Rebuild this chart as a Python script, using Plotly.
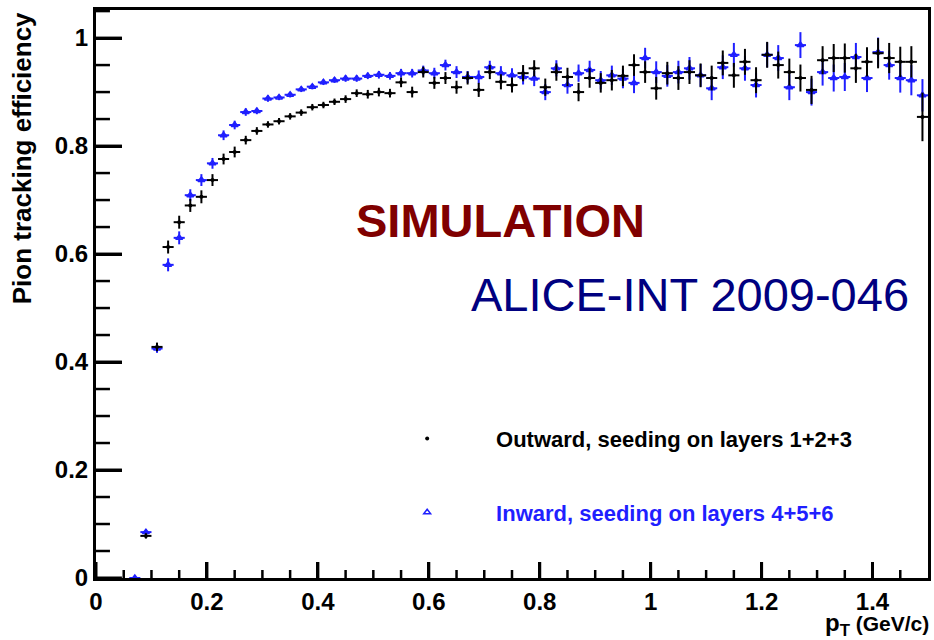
import plotly.graph_objects as go

# ---------------- data ----------------
pt = [0.07, 0.09, 0.11, 0.13, 0.15, 0.17, 0.19, 0.21, 0.23, 0.25,
      0.27, 0.29, 0.31, 0.33, 0.35, 0.37, 0.39, 0.41, 0.43, 0.45,
      0.47, 0.49, 0.51, 0.53, 0.55, 0.57, 0.59, 0.61, 0.63, 0.65,
      0.67, 0.69, 0.71, 0.73, 0.75, 0.77, 0.79, 0.81, 0.83, 0.85,
      0.87, 0.89, 0.91, 0.93, 0.95, 0.97, 0.99, 1.01, 1.03, 1.05,
      1.07, 1.09, 1.11, 1.13, 1.15, 1.17, 1.19, 1.21, 1.23, 1.25,
      1.27, 1.29, 1.31, 1.33, 1.35, 1.37, 1.39, 1.41, 1.43, 1.45,
      1.47, 1.49]

eff_outward = [None, 0.078, 0.428, 0.613, 0.659, 0.690, 0.706, 0.737, 0.776, 0.789,
               0.811, 0.828, 0.840, 0.846, 0.855, 0.862, 0.872, 0.876, 0.882, 0.887,
               0.898, 0.896, 0.900, 0.898, 0.918, 0.900, 0.937, 0.917, 0.926, 0.909,
               0.926, 0.904, 0.937, 0.919, 0.913, 0.935, 0.944, 0.909, 0.937, 0.928,
               0.900, 0.926, 0.917, 0.922, 0.930, 0.950, 0.937, 0.907, 0.935, 0.926,
               0.937, 0.931, 0.926, 0.954, 0.931, 0.956, 0.922, 0.969, 0.950, 0.937,
               0.926, 0.904, 0.959, 0.963, 0.963, 0.944, 0.956, 0.972, 0.963, 0.956,
               0.956, 0.854]

err_outward = [0.0, 0.005, 0.008, 0.012, 0.012, 0.012, 0.012, 0.011, 0.010, 0.010,
               0.008, 0.007, 0.006, 0.006, 0.006, 0.006, 0.006, 0.006, 0.006, 0.007,
               0.007, 0.008, 0.008, 0.008, 0.009, 0.010, 0.010, 0.011, 0.011, 0.012,
               0.012, 0.013, 0.013, 0.014, 0.014, 0.015, 0.015, 0.016, 0.016, 0.017,
               0.017, 0.018, 0.018, 0.019, 0.019, 0.020, 0.020, 0.021, 0.021, 0.022,
               0.022, 0.022, 0.023, 0.023, 0.023, 0.024, 0.024, 0.024, 0.025, 0.025,
               0.025, 0.026, 0.026, 0.026, 0.027, 0.027, 0.027, 0.028, 0.028, 0.028,
               0.029, 0.045]

eff_inward = [0.0, 0.085, 0.425, 0.580, 0.630, 0.709, 0.737, 0.768, 0.820, 0.839,
              0.863, 0.865, 0.888, 0.890, 0.895, 0.905, 0.910, 0.918, 0.922, 0.925,
              0.925, 0.930, 0.932, 0.930, 0.935, 0.935, 0.940, 0.935, 0.950, 0.937,
              0.928, 0.928, 0.946, 0.935, 0.931, 0.928, 0.925, 0.900, 0.944, 0.913,
              0.935, 0.941, 0.922, 0.931, 0.925, 0.917, 0.963, 0.937, 0.930, 0.937,
              0.944, 0.931, 0.907, 0.946, 0.969, 0.944, 0.913, 0.969, 0.963, 0.909,
              0.987, 0.900, 0.937, 0.926, 0.928, 0.965, 0.926, 0.974, 0.950, 0.926,
              0.922, 0.894]

err_inward = [0.0, 0.005, 0.008, 0.012, 0.012, 0.011, 0.011, 0.010, 0.009, 0.008,
              0.007, 0.006, 0.006, 0.005, 0.005, 0.005, 0.005, 0.005, 0.005, 0.006,
              0.006, 0.006, 0.007, 0.007, 0.008, 0.008, 0.009, 0.010, 0.010, 0.011,
              0.011, 0.012, 0.012, 0.013, 0.013, 0.014, 0.014, 0.015, 0.015, 0.016,
              0.016, 0.017, 0.017, 0.018, 0.018, 0.019, 0.019, 0.020, 0.020, 0.021,
              0.021, 0.021, 0.022, 0.022, 0.022, 0.023, 0.023, 0.023, 0.024, 0.024,
              0.024, 0.025, 0.025, 0.025, 0.026, 0.026, 0.026, 0.027, 0.027, 0.027,
              0.028, 0.030]

bin_half_width = 0.01

# axis tick positions (major / minor)
x_major_ticks = [0, 0.2, 0.4, 0.6, 0.8, 1.0, 1.2, 1.4]
x_minor_ticks = [0.05, 0.1, 0.15, 0.25, 0.3, 0.35, 0.45, 0.5, 0.55, 0.65, 0.7, 0.75,
                 0.85, 0.9, 0.95, 1.05, 1.1, 1.15, 1.25, 1.3, 1.35, 1.45]
y_major_ticks = [0, 0.2, 0.4, 0.6, 0.8, 1.0]
y_minor_ticks = [0.05, 0.1, 0.15, 0.25, 0.3, 0.35, 0.45, 0.5, 0.55, 0.65, 0.7, 0.75,
                 0.85, 0.9, 0.95, 1.05]

label_outward = "Outward, seeding on layers 1+2+3"
label_inward = "Inward, seeding on layers 4+5+6"

X_RANGE = [0, 1.5]
Y_RANGE = [0, 1.052]

BLUE = "#1f1fff"
FONT = "Liberation Sans"
pad = "\u00a0" * 8

# plot-area size in pixels (for tick lengths expressed in paper units)
PLOT_W = 934 - 96 - 3
PLOT_H = 640 - 10 - 62

fig = go.Figure()

fig.add_trace(go.Scatter(
    x=pt, y=eff_inward, mode="markers",
    name=pad + "<span style='color:%s'>%s</span>" % (BLUE, label_inward),
    legendgroup="in", legendrank=2,
    marker=dict(symbol="triangle-up-open", size=6, color=BLUE, line=dict(width=1.5, color=BLUE)),
    error_y=dict(type="data", array=err_inward, color=BLUE, thickness=2, width=0),
    error_x=dict(type="constant", value=bin_half_width, color=BLUE, thickness=2, width=0),
))

fig.add_trace(go.Scatter(
    x=pt, y=eff_outward, mode="markers",
    name=pad + label_outward,
    legendgroup="out", legendrank=1,
    marker=dict(symbol="circle", size=4, color="black"),
    error_y=dict(type="data", array=err_outward, color="black", thickness=2, width=0),
    error_x=dict(type="constant", value=bin_half_width, color="black", thickness=2, width=0),
))

# ROOT-style inside ticks drawn on the axes (major long, minor short)
tick_shapes = []
for v in x_major_ticks:
    tick_shapes.append(dict(type="line", xref="x", yref="paper", x0=v, x1=v, y0=0, y1=16 / PLOT_H,
                            line=dict(color="black", width=3), layer="above"))
for v in x_minor_ticks:
    tick_shapes.append(dict(type="line", xref="x", yref="paper", x0=v, x1=v, y0=0, y1=8 / PLOT_H,
                            line=dict(color="black", width=2.5), layer="above"))
for v in y_major_ticks:
    tick_shapes.append(dict(type="line", xref="paper", yref="y", x0=0, x1=26 / PLOT_W, y0=v, y1=v,
                            line=dict(color="black", width=3), layer="above"))
for v in y_minor_ticks:
    tick_shapes.append(dict(type="line", xref="paper", yref="y", x0=0, x1=14 / PLOT_W, y0=v, y1=v,
                            line=dict(color="black", width=2.5), layer="above"))

fig.update_layout(
    width=934, height=640,
    margin=dict(l=96, r=3, t=10, b=62),
    paper_bgcolor="white", plot_bgcolor="white",
    font=dict(family=FONT, color="black", size=22),
    showlegend=True,
    legend=dict(
        x=0.374, y=0.282, xanchor="left", yanchor="top",
        bgcolor="rgba(0,0,0,0)", borderwidth=0,
        font=dict(family=FONT, size=22, color="black", weight="bold"),
        tracegroupgap=42, traceorder="grouped",
    ),
    xaxis=dict(
        range=X_RANGE, showgrid=False, zeroline=False,
        showline=True, mirror=True, linecolor="black", linewidth=3,
        ticks="inside", ticklen=16, tickwidth=3, tickcolor="black",
        tickmode="array", tickvals=x_major_ticks,
        tickfont=dict(family=FONT, size=24, color="black", weight="bold"),
    ),
    yaxis=dict(
        range=Y_RANGE, showgrid=False, zeroline=False,
        showline=True, mirror=True, linecolor="black", linewidth=3,
        ticks="inside", ticklen=26, tickwidth=3, tickcolor="black",
        tickmode="array", tickvals=y_major_ticks,
        tickfont=dict(family=FONT, size=24, color="black", weight="bold"),
    ),
    shapes=tick_shapes,
    annotations=[
        dict(text="Pion tracking efficiency", xref="paper", yref="paper",
             x=-0.0886, y=1.0, xanchor="center", yanchor="top", textangle=-90,
             showarrow=False, font=dict(family=FONT, size=26, color="black", weight="bold")),
        dict(text="p<sub>T</sub><span style='font-size:21px'> (GeV/c)</span>", xref="paper", yref="paper",
             x=1.004, y=-0.081, xanchor="right", yanchor="middle",
             showarrow=False, font=dict(family=FONT, size=24, color="black", weight="bold")),
        dict(text="SIMULATION", xref="paper", yref="paper",
             x=0.486, y=0.630, xanchor="center", yanchor="middle",
             showarrow=False, font=dict(family=FONT, size=47, color="#800000", weight="bold")),
        dict(text="ALICE-INT 2009-046", xref="paper", yref="paper",
             x=0.714, y=0.500, xanchor="center", yanchor="middle",
             showarrow=False, font=dict(family=FONT, size=47, color="#000080")),
    ],
)

fig.write_html("out.html")
